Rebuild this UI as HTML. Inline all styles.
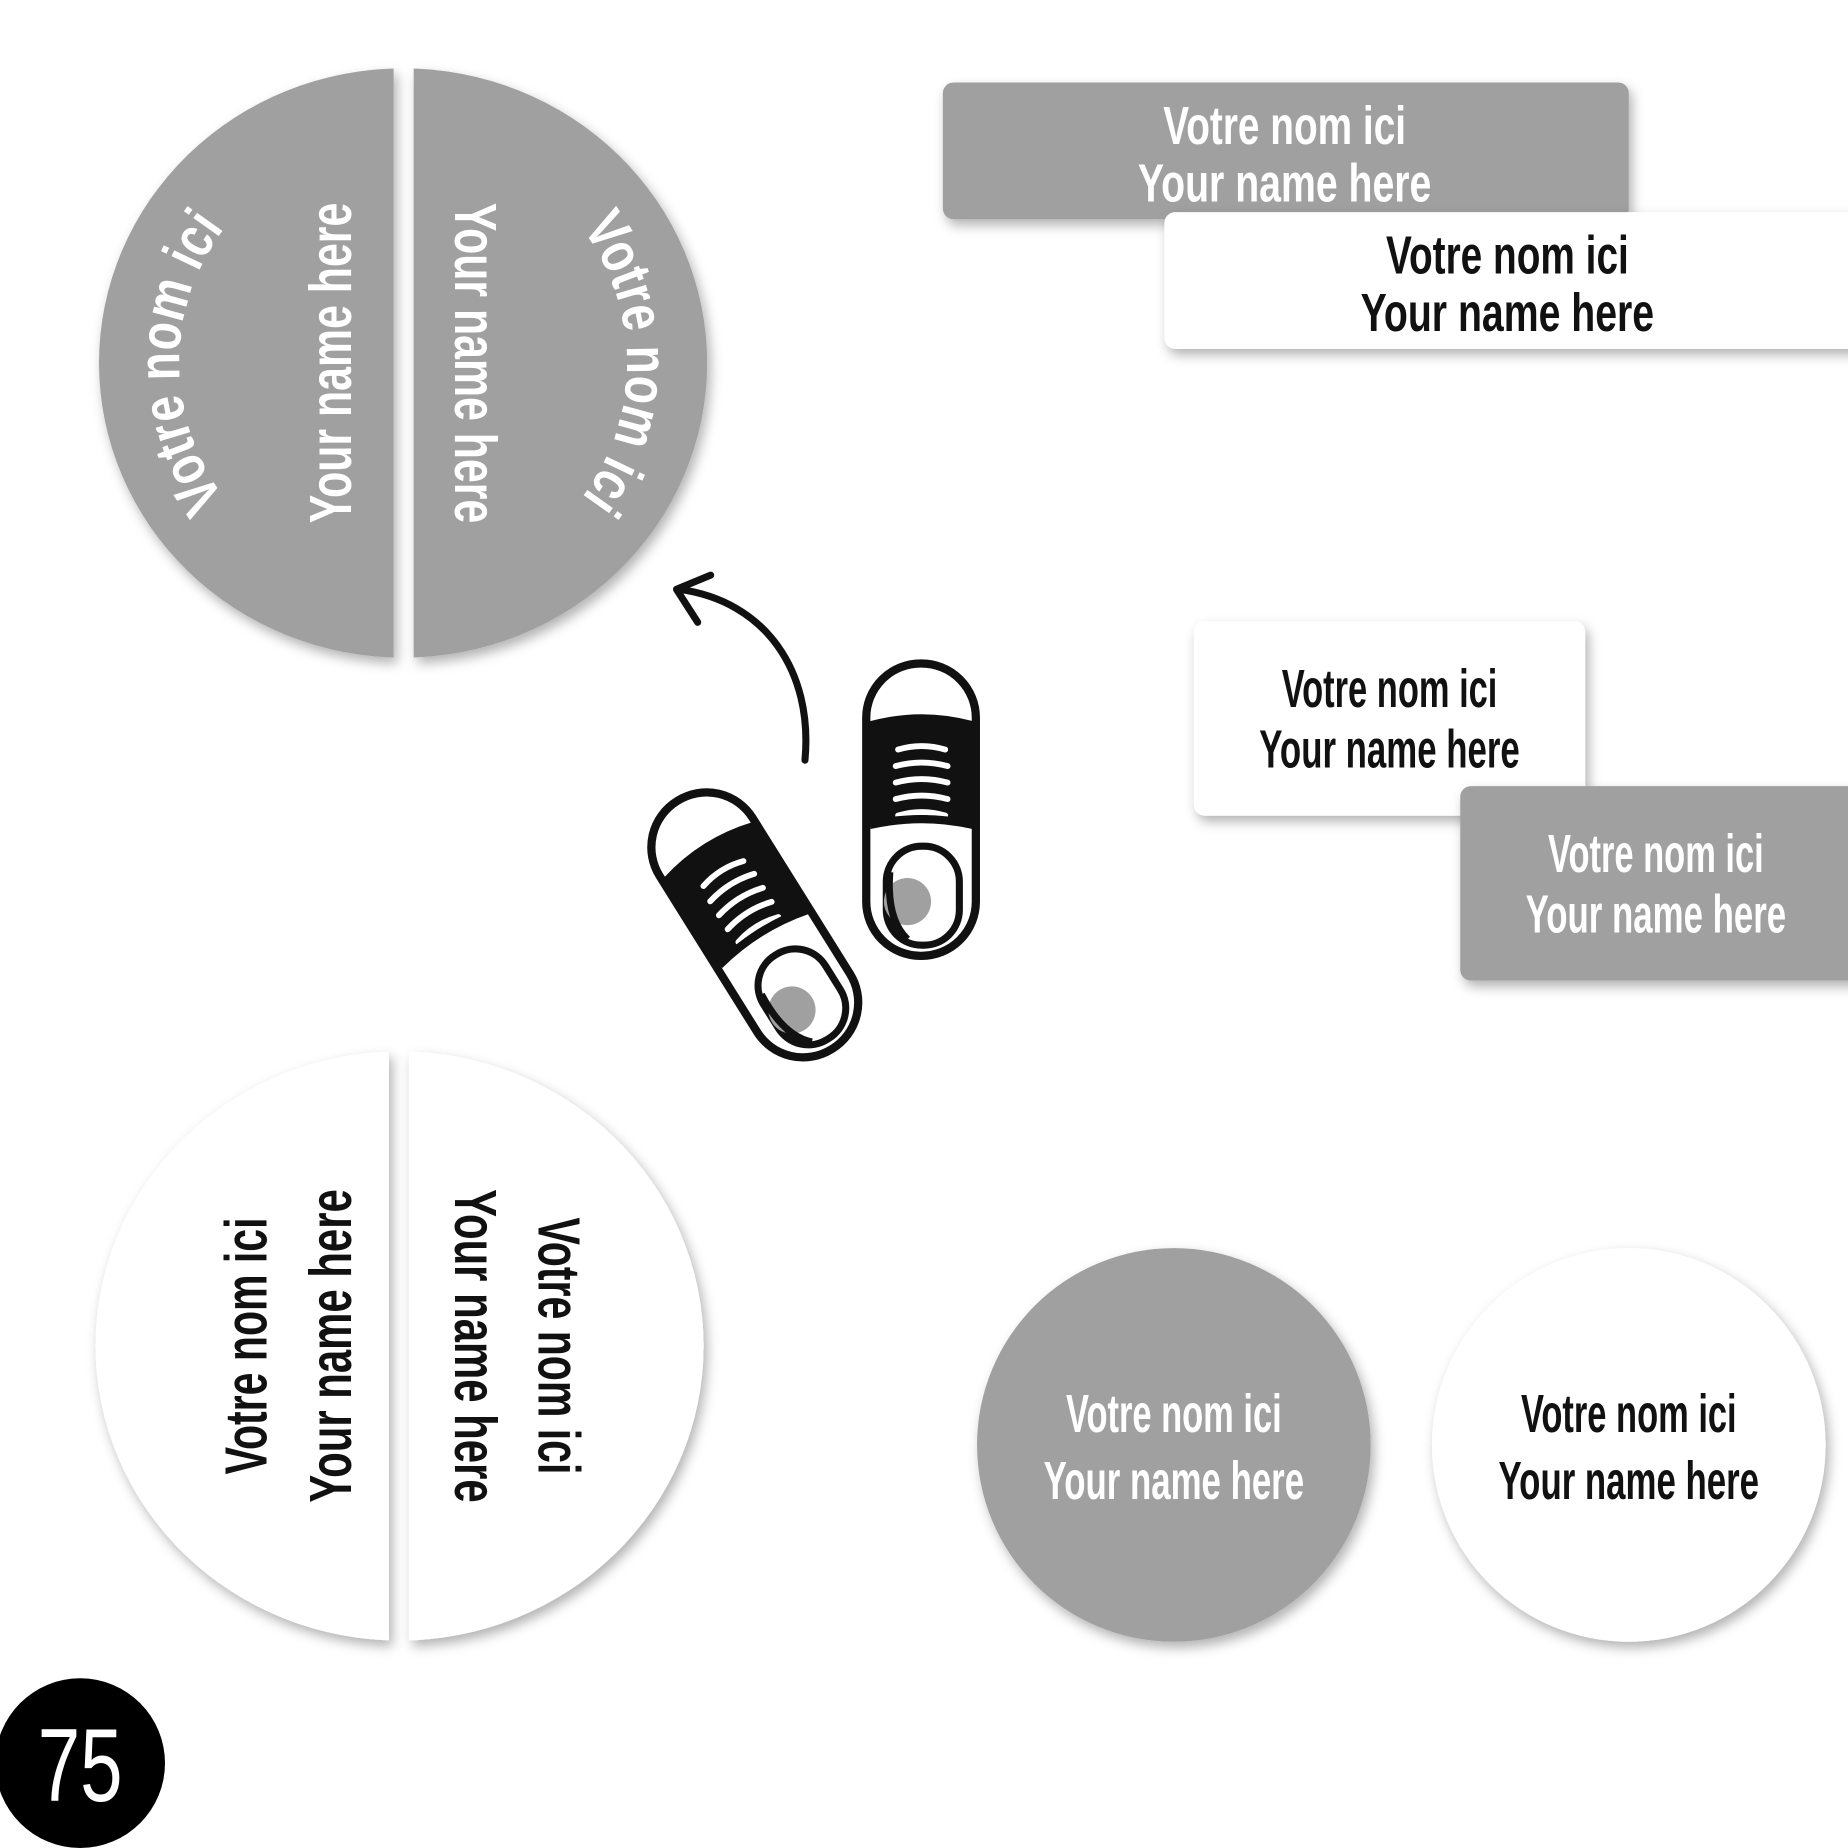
<!DOCTYPE html>
<html><head><meta charset="utf-8"><style>
html,body{margin:0;padding:0;background:#fff;}
svg{display:block;}
text{font-family:"Liberation Sans Narrow","Liberation Sans",sans-serif;font-weight:bold;}
</style></head><body>
<svg width="1848" height="1848" viewBox="0 0 1568 1568" xmlns="http://www.w3.org/2000/svg">
<defs>
<filter id="sh" x="-20%" y="-20%" width="140%" height="140%">
<feDropShadow dx="3" dy="5" stdDeviation="5" flood-color="#000" flood-opacity="0.3"/>
</filter>
<clipPath id="lh1"><rect x="0" y="0" width="334" height="700"/></clipPath>
<clipPath id="rh1"><rect x="351" y="0" width="400" height="700"/></clipPath>
<clipPath id="lh2"><rect x="0" y="800" width="330" height="700"/></clipPath>
<clipPath id="rh2"><rect x="347" y="800" width="400" height="700"/></clipPath>
<path id="arcL" d="M 247 472.5 A 190 190 0 0 1 247 143.5"/>
<path id="arcR" d="M 437 143.5 A 190 190 0 0 1 437 472.5"/>
</defs>

<!-- top-left gray split circle -->
<g filter="url(#sh)">
<ellipse cx="342" cy="308" rx="258" ry="250" fill="#a0a0a0" clip-path="url(#lh1)"/>
<ellipse cx="342" cy="308" rx="258" ry="250" fill="#a0a0a0" clip-path="url(#rh1)"/>
</g>
<g fill="#fff" font-size="50">
<text textLength="245" lengthAdjust="spacingAndGlyphs"><textPath href="#arcL" startOffset="50%" text-anchor="middle" textLength="245" lengthAdjust="spacingAndGlyphs">Votre nom ici</textPath></text>
<text textLength="245" lengthAdjust="spacingAndGlyphs"><textPath href="#arcR" startOffset="50%" text-anchor="middle" textLength="245" lengthAdjust="spacingAndGlyphs">Votre nom ici</textPath></text>
<text transform="translate(298,308) rotate(-90)" text-anchor="middle" textLength="272" lengthAdjust="spacingAndGlyphs">Your name here</text>
<text transform="translate(386,308) rotate(90)" text-anchor="middle" textLength="272" lengthAdjust="spacingAndGlyphs">Your name here</text>
</g>

<!-- bottom-left white split circle -->
<g filter="url(#sh)">
<ellipse cx="339" cy="1142" rx="258" ry="250" fill="#fff" clip-path="url(#lh2)"/>
<ellipse cx="339" cy="1142" rx="258" ry="250" fill="#fff" clip-path="url(#rh2)"/>
</g>
<g fill="#111" font-size="50">
<text transform="translate(226,1142) rotate(-90)" text-anchor="middle" textLength="218" lengthAdjust="spacingAndGlyphs">Votre nom ici</text>
<text transform="translate(298,1142) rotate(-90)" text-anchor="middle" textLength="266" lengthAdjust="spacingAndGlyphs">Your name here</text>
<text transform="translate(386,1142) rotate(90)" text-anchor="middle" textLength="266" lengthAdjust="spacingAndGlyphs">Your name here</text>
<text transform="translate(457,1142) rotate(90)" text-anchor="middle" textLength="218" lengthAdjust="spacingAndGlyphs">Votre nom ici</text>
</g>

<!-- rectangles -->
<rect x="800" y="70" width="582" height="116" rx="9" fill="#a0a0a0" filter="url(#sh)"/>
<g fill="#fff" font-size="46" text-anchor="middle">
<text x="1090" y="122" textLength="206" lengthAdjust="spacingAndGlyphs">Votre nom ici</text>
<text x="1090" y="171" textLength="249" lengthAdjust="spacingAndGlyphs">Your name here</text>
</g>
<rect x="988" y="180" width="590" height="116" rx="9" fill="#fff" filter="url(#sh)"/>
<g fill="#111" font-size="46" text-anchor="middle">
<text x="1279" y="232" textLength="206" lengthAdjust="spacingAndGlyphs">Votre nom ici</text>
<text x="1279" y="281" textLength="249" lengthAdjust="spacingAndGlyphs">Your name here</text>
</g>

<rect x="1013" y="527" width="332" height="165" rx="9" fill="#fff" filter="url(#sh)"/>
<g fill="#111" font-size="46" text-anchor="middle">
<text x="1179" y="600" textLength="183" lengthAdjust="spacingAndGlyphs">Votre nom ici</text>
<text x="1179" y="651" textLength="221" lengthAdjust="spacingAndGlyphs">Your name here</text>
</g>
<rect x="1239" y="667" width="340" height="165" rx="9" fill="#a0a0a0" filter="url(#sh)"/>
<g fill="#fff" font-size="46" text-anchor="middle">
<text x="1405" y="740" textLength="183" lengthAdjust="spacingAndGlyphs">Votre nom ici</text>
<text x="1405" y="791" textLength="221" lengthAdjust="spacingAndGlyphs">Your name here</text>
</g>

<!-- small circles -->
<circle cx="996" cy="1226" r="167" fill="#a0a0a0" filter="url(#sh)"/>
<g fill="#fff" font-size="46" text-anchor="middle">
<text x="996" y="1215" textLength="183" lengthAdjust="spacingAndGlyphs">Votre nom ici</text>
<text x="996" y="1272" textLength="221" lengthAdjust="spacingAndGlyphs">Your name here</text>
</g>
<circle cx="1382" cy="1226" r="167" fill="#fff" filter="url(#sh)"/>
<g fill="#111" font-size="46" text-anchor="middle">
<text x="1382" y="1215" textLength="183" lengthAdjust="spacingAndGlyphs">Votre nom ici</text>
<text x="1382" y="1272" textLength="221" lengthAdjust="spacingAndGlyphs">Your name here</text>
</g>

<!-- arrow -->
<path d="M 683 645 C 690 570 650 510 576 500" fill="none" stroke="#111" stroke-width="6" stroke-linecap="round"/>
<path d="M 603 488 L 574 500 L 592 528" fill="none" stroke="#111" stroke-width="6" stroke-linecap="round" stroke-linejoin="round"/>

<!-- shoes -->
<g id="shoe">
<rect x="735" y="563" width="93" height="248" rx="46" fill="#fff" stroke="#111" stroke-width="7"/>
<path d="M 738 612 Q 782 600 826 612 L 826 700 Q 782 690 738 700 Z" fill="#111"/>
<g fill="none" stroke="#fff" stroke-width="5" stroke-linecap="round">
<path d="M 762 636 Q 782 630 802 636"/>
<path d="M 760 650 Q 782 644 804 650"/>
<path d="M 760 664 Q 782 658 804 664"/>
<path d="M 760 678 Q 782 672 804 678"/>
<path d="M 762 692 Q 782 686 802 692"/>
</g>
<path d="M 738 700 Q 782 690 826 700" fill="none" stroke="#111" stroke-width="7"/>
<rect x="752" y="718" width="62" height="84" rx="30" fill="#fff" stroke="#111" stroke-width="6"/>
<circle cx="770" cy="765" r="20" fill="#a0a0a0"/>
<path d="M 755 740 Q 752 780 770 797" fill="none" stroke="#111" stroke-width="6"/>
</g>
<use href="#shoe" transform="translate(-141 98) rotate(-32 781 687)"/>

<!-- badge -->
<circle cx="68" cy="1496" r="72" fill="#000"/>
<text x="68" y="1528" fill="#fff" font-size="88" text-anchor="middle" textLength="72" lengthAdjust="spacingAndGlyphs" style="font-weight:normal">75</text>
</svg>
</body></html>
